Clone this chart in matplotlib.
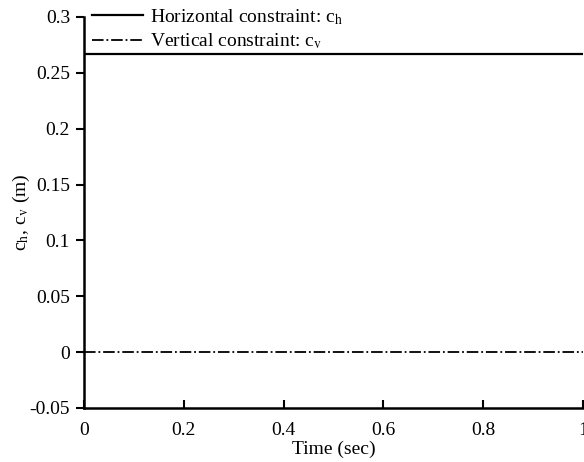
import matplotlib.pyplot as plt

plt.rcParams['font.family'] = ['Liberation Serif', 'DejaVu Serif']
plt.rcParams['mathtext.fontset'] = 'stix'

# values
time = [0.0, 1.0]
c_h = [0.2665, 0.2665]
c_v = [0.0, 0.0]
x_ticks = [0, 0.2, 0.4, 0.6, 0.8, 1]
x_labels = ['0', '0.2', '0.4', '0.6', '0.8', '1']
y_ticks = [-0.05, 0, 0.05, 0.1, 0.15, 0.2, 0.25, 0.3]
y_labels = ['-0.05', '0', '0.05', '0.1', '0.15', '0.2', '0.25', '0.3']

fig = plt.figure(figsize=(5.84, 4.62), dpi=100)
ax = fig.add_axes([84 / 584, 1 - 408 / 462, 1 - 85 / 584, 391 / 462])

ax.plot(time, c_h, color='black', linewidth=1.6, linestyle='-',
        label=r'Horizontal constraint: c$_\mathrm{h}$')
ax.plot(time, c_v, color='black', linewidth=1.3, linestyle='-.',
        label=r'Vertical constraint: c$_\mathrm{v}$')

ax.set_xlim(0, 1)
ax.set_ylim(-0.05, 0.3)
ax.set_xticks(x_ticks)
ax.set_xticklabels(x_labels)
ax.set_yticks(y_ticks)
ax.set_yticklabels(y_labels)

for side in ['top', 'right']:
    ax.spines[side].set_visible(False)
for side in ['left', 'bottom']:
    ax.spines[side].set_linewidth(1.8)

ax.tick_params(axis='x', direction='in', length=6, width=1.5, labelsize=14, pad=10)
ax.tick_params(axis='y', direction='out', length=6, width=1.5, labelsize=14, pad=4)

ax.set_xlabel('Time (sec)', fontsize=14, labelpad=1)
ax.set_ylabel(r'c$_\mathrm{h}$, c$_\mathrm{v}$ (m)', fontsize=14, labelpad=-2)

ax.legend(loc='upper left', bbox_to_anchor=(90 / 584, 1 - 5 / 462), bbox_transform=fig.transFigure,
          frameon=False, fontsize=14, handlelength=2.6, handletextpad=0.36,
          labelspacing=0.25, borderaxespad=0.0, borderpad=0.1)

fig.savefig('out.png', dpi=100)
